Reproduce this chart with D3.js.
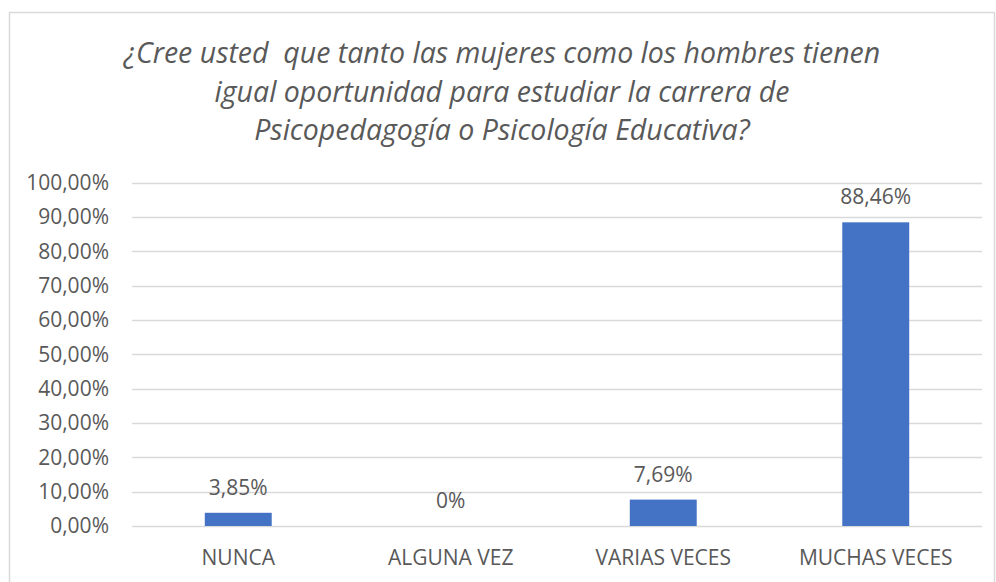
<!DOCTYPE html>
<html>
<head>
<meta charset="utf-8">
<script src="https://d3js.org/d3.v7.min.js"></script>
<style>
  body { margin: 0; background: #fff; }
  text { font-family: "Open Sans", sans-serif; fill: #595959; }
</style>
</head>
<body>
<div id="chart"></div>
<script>
// data
var categories = ["NUNCA", "ALGUNA VEZ", "VARIAS VECES", "MUCHAS VECES"];
var values = [3.85, 0, 7.69, 88.46];
var valueLabels = ["3,85%", "0%", "7,69%", "88,46%"];
var yTicks = [0, 10, 20, 30, 40, 50, 60, 70, 80, 90, 100];
var titleLines = [
  "¿Cree usted  que tanto las mujeres como los hombres tienen",
  "igual oportunidad para estudiar la carrera de",
  "Psicopedagogía o Psicología Educativa?"
];

var W = 996, H = 582;
var plotLeft = 132, plotRight = 982, plotTop = 182.7, plotBottom = 526;
var fs = "21px";

var svg = d3.select("#chart").append("svg")
  .attr("width", W).attr("height", H);

// chart border
svg.append("rect")
  .attr("x", 9.5).attr("y", 12.5)
  .attr("width", 985).attr("height", 580)
  .attr("fill", "none").attr("stroke", "#d9d9d9").attr("stroke-width", 1.5);

// title
svg.append("g").selectAll("text")
  .data(titleLines).enter().append("text")
  .attr("x", 502)
  .attr("y", function(d, i) { return 63 + i * 38.5; })
  .attr("text-anchor", "middle")
  .style("font-style", "italic")
  .style("font-size", "28.5px")
  .style("white-space", "pre")
  .text(function(d) { return d; });

var x = d3.scaleBand().domain(categories).range([plotLeft, plotRight])
  .paddingInner(0.685).paddingOuter(0.3425);
var y = d3.scaleLinear().domain([0, 100]).range([plotBottom, plotTop]);

// gridlines
svg.append("g").selectAll("line")
  .data(yTicks).enter().append("line")
  .attr("x1", plotLeft).attr("x2", plotRight)
  .attr("y1", function(d) { return Math.round(y(d)) + 0.5; })
  .attr("y2", function(d) { return Math.round(y(d)) + 0.5; })
  .attr("stroke", "#d9d9d9").attr("stroke-width", 1.3);

// y axis labels
var yAxis = d3.axisLeft(y).tickValues(yTicks).tickSize(0).tickPadding(0)
  .tickFormat(function(d) { return d3.format(".2f")(d).replace(".", ",") + "%"; });
var ya = svg.append("g").attr("transform", "translate(109,0)").call(yAxis);
ya.select(".domain").remove();
ya.selectAll("text").style("font-size", fs).style("font-family", "'Open Sans', sans-serif").attr("fill", "#595959");

// x axis labels
var xAxis = d3.axisBottom(x).tickSize(0).tickPadding(0);
var xa = svg.append("g").attr("transform", "translate(0,550)").call(xAxis);
xa.select(".domain").remove();
xa.selectAll("text").style("font-size", fs).style("font-family", "'Open Sans', sans-serif").attr("fill", "#595959");

// bars
svg.append("g").selectAll("rect")
  .data(values).enter().append("rect")
  .attr("x", function(d, i) { return x(categories[i]); })
  .attr("width", x.bandwidth())
  .attr("y", function(d) { return y(d); })
  .attr("height", function(d) { return y(0) - y(d); })
  .attr("fill", "#4472c4");

// value labels
svg.append("g").selectAll("text")
  .data(values).enter().append("text")
  .attr("x", function(d, i) { return x(categories[i]) + x.bandwidth() / 2; })
  .attr("y", function(d) { return y(d) - 18; })
  .attr("text-anchor", "middle")
  .style("font-size", fs)
  .text(function(d, i) { return valueLabels[i]; });
</script>
</body>
</html>
